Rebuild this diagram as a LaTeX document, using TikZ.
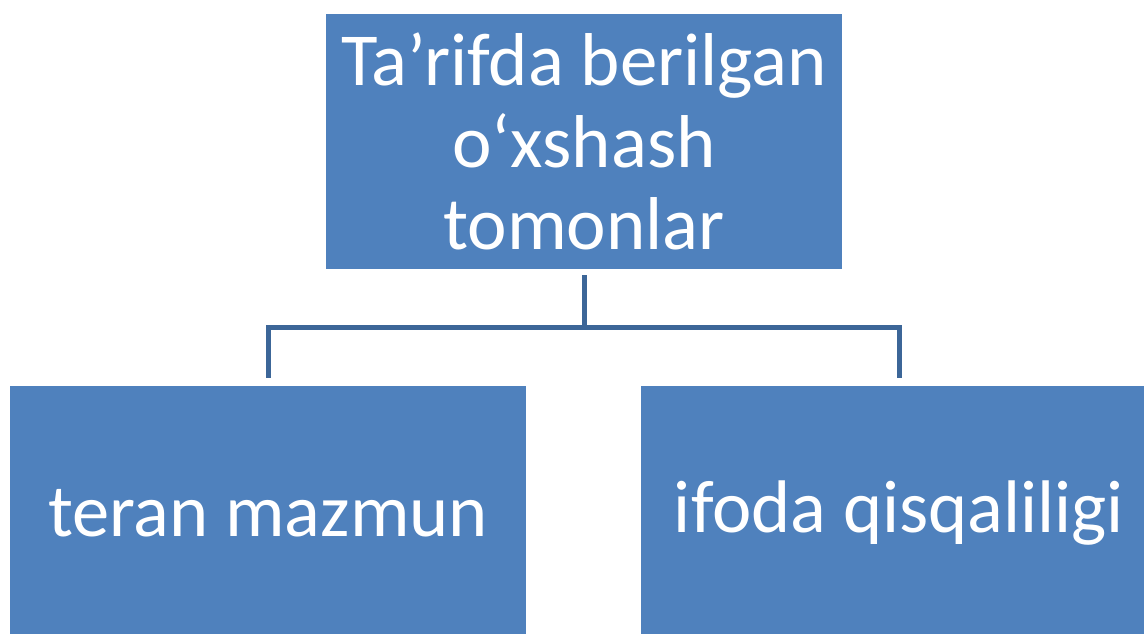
\documentclass[tikz,border=0pt]{standalone}
\usepackage{fontspec}
\setmainfont{Carlito}
\usetikzlibrary{positioning}
\definecolor{boxblue}{HTML}{4F81BD}
\definecolor{linkblue}{HTML}{3C6698}

\begin{document}
\begin{tikzpicture}[
      box/.style={fill=boxblue, draw=none, minimum width=10.32cm, minimum height=5.1cm, text=white, align=center, inner sep=0pt},
      link/.style={draw=linkblue, line width=0.1cm}
    ]
      % Picture frame
      \clip (0,0) rectangle (22.88,-12.66);

      % Top box
      \node[box, font=\fontsize{42.6}{46.7}\selectfont] (top) at (11.68,-2.83) {Ta’rifda berilgan\\o‘xshash\\tomonlar};

      % Bottom boxes - relative to top box
      \node[box, anchor=north, font=\fontsize{42.4}{50}\selectfont] (left) at ([xshift=-6.32cm, yshift=-2.32cm]top.south) {teran mazmun};
      \node[box, anchor=north, font=\fontsize{42.4}{50}\selectfont] (right) at ([xshift=6.3cm, yshift=-2.32cm]top.south) {ifoda qisqaliligi};

      % Connectors
      \coordinate (fork) at ([yshift=-1.16cm]top.south);
      \draw[link] ([yshift=-0.12cm]top.south) -- (fork);
      \draw[link] (fork) -| ([yshift=0.14cm]left.north);
      \draw[link] (fork) -| ([yshift=0.14cm]right.north);
\end{tikzpicture}
\end{document}
